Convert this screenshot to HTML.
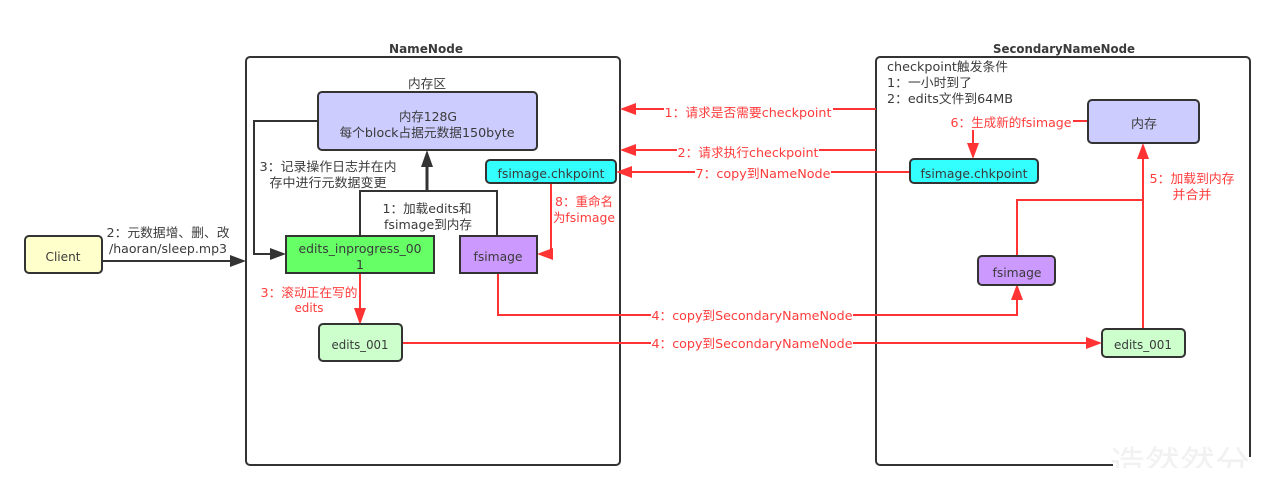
<!DOCTYPE html>
<html><head><meta charset="utf-8">
<style>
html,body{margin:0;padding:0;background:#fff}
svg{display:block}
text{font-family:"DejaVu Sans","Noto Sans CJK SC",sans-serif;font-size:12.5px;fill:#3a3a3a;text-anchor:middle}
text.r{fill:#ff3b3b}
.r{fill:#ff3333}
.b{font-weight:bold;font-size:12px}
.l{text-anchor:start}
.g{fill:none;stroke:#333;stroke-width:2}
.rl{fill:none;stroke:#ff3333;stroke-width:2}
.bx{stroke:#333;stroke-width:2}
</style></head><body>
<svg width="1275" height="491" viewBox="0 0 1275 491" xmlns="http://www.w3.org/2000/svg">
<defs><clipPath id="wm"><rect x="1108" y="444" width="143" height="24"/></clipPath></defs>
<rect width="1275" height="491" fill="#fff"/>
<!-- containers -->
<rect x="246" y="57" width="374" height="408" rx="4" fill="#fff" class="bx"/>
<rect x="876" y="57" width="374" height="408" rx="4" fill="#fff" class="bx"/>
<text x="426" y="53" class="b" textLength="74" lengthAdjust="spacingAndGlyphs">NameNode</text>
<text x="1064" y="53" class="b" textLength="142" lengthAdjust="spacingAndGlyphs">SecondaryNameNode</text>
<text x="427" y="88" textLength="38" lengthAdjust="spacingAndGlyphs">内存区</text>

<!-- dark connectors -->
<polyline class="g" points="318,121 254,121 254,254 272,254"/>
<polygon points="286,254 270,248 270,260" fill="#333"/>
<polyline class="g" points="360,236 360,191 497,191 497,236"/>
<line x1="427" y1="191" x2="427" y2="165" stroke="#333" stroke-width="3"/>
<polygon points="427,150 421,167 433,167" fill="#333"/>
<line x1="102" y1="261" x2="232" y2="261" stroke="#333" stroke-width="2"/>
<polygon points="246,261 230,255 230,267" fill="#333"/>

<!-- red connectors -->
<line class="rl" x1="876" y1="109" x2="634" y2="109"/>
<polygon class="r" points="620,109 636,103 636,115"/>
<line class="rl" x1="876" y1="150" x2="634" y2="150"/>
<polygon class="r" points="620,150 636,144 636,156"/>
<line class="rl" x1="910" y1="172" x2="630" y2="172"/>
<polygon class="r" points="616,172 632,166 632,178"/>
<polyline class="rl" points="551,183 551,254 550,254"/>
<polygon class="r" points="537,254 553,248 553,260"/>
<line class="rl" x1="360" y1="273" x2="360" y2="312"/>
<polygon class="r" points="360,325 354,308 366,308"/>
<polyline class="rl" points="498,273 498,315 1017,315 1017,298"/>
<polygon class="r" points="1017,284 1011,300 1023,300"/>
<line class="rl" x1="402" y1="343" x2="1088" y2="343"/>
<polygon class="r" points="1102,343 1086,337 1086,349"/>
<line class="rl" x1="1143" y1="329" x2="1143" y2="156"/>
<polygon class="r" points="1143,143 1137,159 1149,159"/>
<polyline class="rl" points="1017,256 1017,200 1143,200"/>
<polyline class="rl" points="1088,121 973,121 973,146"/>
<polygon class="r" points="973,159 967,143 979,143"/>

<!-- nodes -->
<rect x="25" y="236" width="77" height="37" rx="4" fill="#ffffcc" class="bx"/>
<rect x="318" y="92" width="219" height="58" rx="4" fill="#ccccff" class="bx"/>
<rect x="486" y="160" width="130" height="23" rx="4" fill="#33ffff" class="bx"/>
<rect x="286" y="236" width="148" height="37" fill="#66ff66" class="bx"/>
<rect x="460" y="236" width="77" height="37" fill="#cc99ff" class="bx"/>
<rect x="319" y="324" width="83" height="37" rx="4" fill="#ccffcc" class="bx"/>
<rect x="1088" y="100" width="111" height="43" rx="4" fill="#ccccff" class="bx"/>
<rect x="910" y="159" width="128" height="24" rx="4" fill="#33ffff" class="bx"/>
<rect x="978" y="256" width="77" height="29" rx="4" fill="#cc99ff" class="bx"/>
<rect x="1102" y="329" width="83" height="28" rx="4" fill="#ccffcc" class="bx"/>

<!-- node labels -->
<text x="63" y="261" textLength="35" lengthAdjust="spacingAndGlyphs">Client</text>
<text x="428" y="121" textLength="58" lengthAdjust="spacingAndGlyphs">内存128G</text>
<text x="427" y="137" textLength="175" lengthAdjust="spacingAndGlyphs">每个block占据元数据150byte</text>
<text x="551" y="178" textLength="107" lengthAdjust="spacingAndGlyphs">fsimage.chkpoint</text>
<text x="360" y="253" textLength="123" lengthAdjust="spacingAndGlyphs">edits_inprogress_00</text>
<text x="360" y="269">1</text>
<text x="498" y="261" textLength="49" lengthAdjust="spacingAndGlyphs">fsimage</text>
<text x="360" y="349" textLength="57" lengthAdjust="spacingAndGlyphs">edits_001</text>
<text x="1144" y="128" textLength="26" lengthAdjust="spacingAndGlyphs">内存</text>
<text x="974" y="178" textLength="107" lengthAdjust="spacingAndGlyphs">fsimage.chkpoint</text>
<text x="1017" y="277" textLength="49" lengthAdjust="spacingAndGlyphs">fsimage</text>
<text x="1143" y="349" textLength="58" lengthAdjust="spacingAndGlyphs">edits_001</text>

<!-- dark labels -->
<text x="168" y="237" textLength="123" lengthAdjust="spacingAndGlyphs">2：元数据增、删、改</text>
<text x="168" y="253" textLength="118" lengthAdjust="spacingAndGlyphs">/haoran/sleep.mp3</text>
<text x="328" y="171" textLength="137" lengthAdjust="spacingAndGlyphs">3：记录操作日志并在内</text>
<text x="328" y="187" textLength="117" lengthAdjust="spacingAndGlyphs">存中进行元数据变更</text>
<text x="427" y="213" textLength="89" lengthAdjust="spacingAndGlyphs">1：加载edits和</text>
<text x="428" y="229" textLength="88" lengthAdjust="spacingAndGlyphs">fsimage到内存</text>
<text x="887" y="71" class="l" textLength="121" lengthAdjust="spacingAndGlyphs">checkpoint触发条件</text>
<text x="887" y="87" class="l" textLength="85" lengthAdjust="spacingAndGlyphs">1：一小时到了</text>
<text x="887" y="103" class="l" textLength="126" lengthAdjust="spacingAndGlyphs">2：edits文件到64MB</text>

<!-- red label backgrounds -->
<g>
<rect x="664" y="101" width="169" height="18" fill="#fff"/>
<rect x="677" y="142" width="142" height="18" fill="#fff"/>
<rect x="695" y="164" width="136" height="17" fill="#fff"/>
<rect x="651" y="307" width="202" height="17" fill="#fff"/>
<rect x="651" y="335" width="202" height="17" fill="#fff"/>
<rect x="950" y="113" width="123" height="17" fill="#fff"/>
<rect x="552" y="192" width="64" height="34" fill="#fff"/>
</g>
<text class="r" x="748" y="117" textLength="167" lengthAdjust="spacingAndGlyphs">1：请求是否需要checkpoint</text>
<text class="r" x="748" y="157" textLength="141" lengthAdjust="spacingAndGlyphs">2：请求执行checkpoint</text>
<text class="r" x="763" y="178" textLength="135" lengthAdjust="spacingAndGlyphs">7：copy到NameNode</text>
<text class="r" x="584" y="206" textLength="58" lengthAdjust="spacingAndGlyphs">8：重命名</text>
<text class="r" x="584" y="222" textLength="62" lengthAdjust="spacingAndGlyphs">为fsimage</text>
<text class="r" x="309" y="297" textLength="97" lengthAdjust="spacingAndGlyphs">3：滚动正在写的</text>
<text class="r" x="309" y="312" textLength="29" lengthAdjust="spacingAndGlyphs">edits</text>
<text class="r" x="752" y="320" textLength="201" lengthAdjust="spacingAndGlyphs">4：copy到SecondaryNameNode</text>
<text class="r" x="752" y="348" textLength="201" lengthAdjust="spacingAndGlyphs">4：copy到SecondaryNameNode</text>
<text class="r" x="1011" y="127" textLength="121" lengthAdjust="spacingAndGlyphs">6：生成新的fsimage</text>
<text class="r" x="1192" y="183" textLength="85" lengthAdjust="spacingAndGlyphs">5：加载到内存</text>
<text class="r" x="1192" y="199" textLength="39" lengthAdjust="spacingAndGlyphs">并合并</text>

<!-- watermark -->
<rect x="1113" y="463" width="140" height="5" fill="#fff"/>
<rect x="1247" y="457" width="6" height="11" fill="#fff"/>
<g clip-path="url(#wm)">
<text x="1110" y="476" class="l" style="font-size:35px;fill:#f1f1f1">造然然分</text>
</g>
</svg>
</body></html>
